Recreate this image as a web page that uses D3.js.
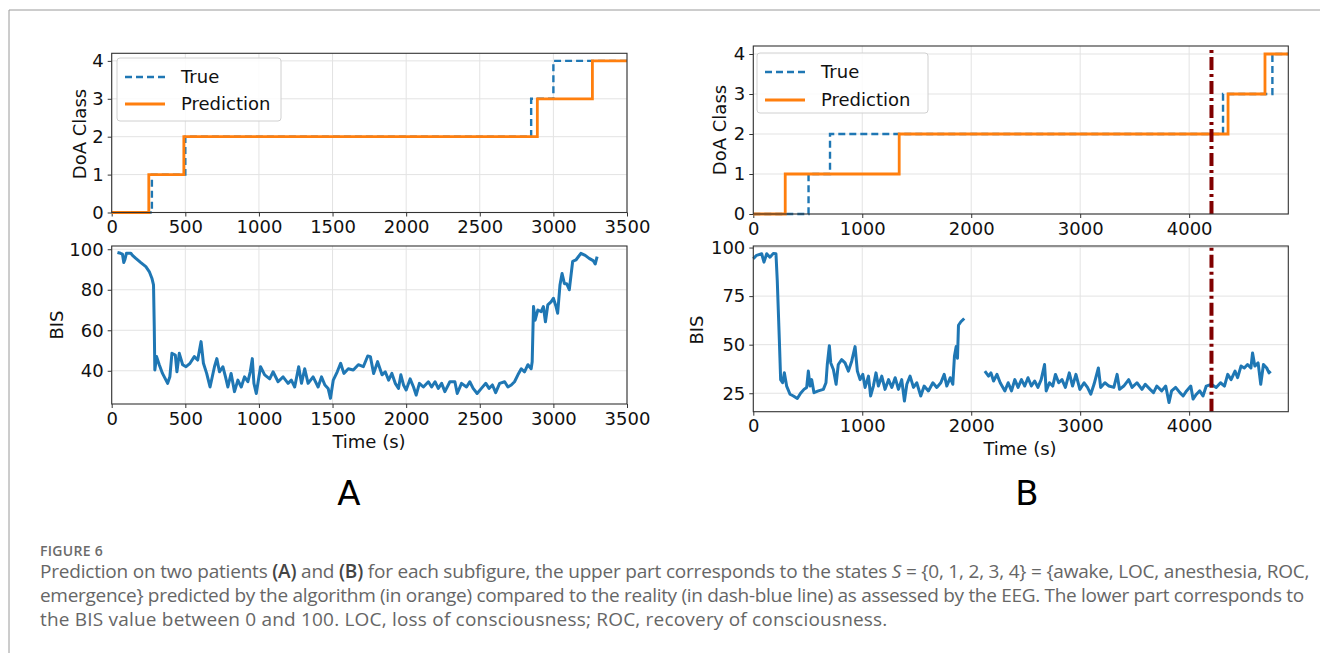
<!DOCTYPE html>
<html lang="en">
<head>
<meta charset="utf-8">
<title>Figure 6</title>
<script src="https://cdnjs.cloudflare.com/ajax/libs/d3/7.8.5/d3.min.js"></script>
<style>
  body { margin: 0; background: #fff; }
  svg { display: block; }
  .tick text { font-family: "DejaVu Sans", sans-serif; font-size: 18px; fill: #111; }
  .tick line { stroke: #333; }
  .domain { display: none; }
  .grid line { stroke: #e3e3e3; stroke-width: 1; }
  .lbl { font-family: "DejaVu Sans", sans-serif; font-size: 18px; fill: #111; }
  .caption { font-family: "Open Sans", sans-serif; font-size: 19px; fill: #666; }
</style>
</head>
<body>
<svg id="fig" width="1320" height="653"></svg>
<script>
// ---- data ----
var classTicks = [0, 1, 2, 3, 4];

// patient A, DoA class steps (time in s, class)
var aTrueT = [0, 273, 500, 2849, 3000, 3500];
var aTrueC = [0, 1, 2, 3, 4, 4];
var aPredT = [0, 252, 490, 2891, 3265, 3500];
var aPredC = [0, 1, 2, 3, 4, 4];
var aTicks = [0, 500, 1000, 1500, 2000, 2500, 3000, 3500];
var aBisTicks = [40, 60, 80, 100];

// patient A, BIS
var aBisT = [39, 60, 73, 82, 90, 100, 114, 130, 141, 164, 198, 232, 255, 273, 284, 289, 293, 305, 323, 345, 380, 395,
  409, 432, 443, 459, 482, 505, 532, 561, 584, 607, 623, 645, 668, 698, 714, 732, 755, 773, 789, 811, 834, 857,
  880, 902, 925, 941, 955, 966, 982, 1000, 1011, 1039, 1073, 1096, 1130, 1164, 1198, 1220, 1243, 1270, 1289,
  1311, 1334, 1368, 1402, 1425, 1448, 1470, 1486, 1505, 1532, 1555, 1577, 1607, 1641, 1675, 1709, 1739, 1757,
  1779, 1806, 1836, 1858, 1881, 1903, 1926, 1948, 1964, 1982, 2000, 2027, 2050, 2068, 2090, 2117, 2151, 2173,
  2196, 2218, 2241, 2263, 2297, 2331, 2347, 2376, 2410, 2432, 2455, 2482, 2511, 2541, 2563, 2586, 2608, 2635,
  2669, 2691, 2714, 2736, 2759, 2782, 2804, 2827, 2849, 2856, 2865, 2876, 2894, 2917, 2932, 2946, 2962, 2984,
  3000, 3018, 3029, 3045, 3059, 3075, 3090, 3108, 3131, 3153, 3187, 3216, 3243, 3270, 3284, 3297];
var aBisV = [98.4, 98, 97.6, 93.4, 95, 98, 98, 98, 97, 95.5, 93.4, 91.4, 89, 85.7, 82.4, 62, 40.4, 47, 43, 38.7, 33.8, 37,
  48.6, 47.8, 39.5, 48.6, 43, 42, 43.7, 47, 45.3, 54.4, 43.7, 38.7, 32, 42, 46, 39.5, 42, 37, 32, 38.7, 29.7, 35.4,
  32, 37, 34.6, 39.5, 46, 33.8, 28.8, 37, 42, 38, 36, 39.5, 34.6, 37, 33.8, 35.4, 32, 42, 33.8,
  41, 33.8, 37, 32, 37, 33, 31.3, 26.4, 35.4, 39.5, 43.7, 38.7, 41, 40.4, 43, 42, 47.3, 47,
  38.7, 44.5, 38, 39.5, 35.4, 38.7, 33.8, 31.3, 38, 33, 30.5, 36, 32, 28, 33.8, 32, 34.6, 32,
  34.6, 31.3, 33.8, 29.7, 34.6, 34.6, 28.8, 33.8, 32, 34.6, 31.3, 28.8, 31.3, 33.8, 31.3, 33, 29.2, 33.8,
  34.6, 32, 33, 34.6, 38, 41, 39.5, 43, 41, 44.5, 71.7, 65, 70, 69.2, 71.7, 64.2, 72.5, 74,
  75.8, 71.7, 68.4, 82.5, 88, 83, 83, 80, 94, 94.7, 98, 97, 95.5, 94.4, 92.7, 96.4];

// patient B, DoA class steps
var bTrueT = [0, 507, 704, 4311, 4764, 4910];
var bTrueC = [0, 1, 2, 3, 4, 4];
var bPredT = [0, 293, 1339, 4357, 4696, 4910];
var bPredC = [0, 1, 2, 3, 4, 4];
var bTicks = [0, 1000, 2000, 3000, 4000];
var bBisTicks = [25, 50, 75, 100];
var bMarkerT = 4205;

// patient B, BIS (null = no signal)
var bBisT = [0, 30, 77, 98, 123, 153, 184, 208, 220, 239, 251, 269, 285, 306, 337, 368, 404, 434, 465, 490, 505, 521,
  536, 557, 597, 643, 667, 679, 698, 711, 735, 760, 780, 811, 842, 873, 903, 934, 955, 980, 1005, 1026, 1057,
  1077, 1102, 1126, 1148, 1179, 1209, 1241, 1271, 1302, 1332, 1362, 1387, 1409, 1439, 1470, 1500, 1537, 1568,
  1607, 1648, 1684, 1721, 1752, 1776, 1807, 1831, 1846, 1862, 1874, 1883, 1905, 1936, 2030,
  2125, 2159, 2181, 2205, 2236, 2266, 2309, 2339, 2370, 2400, 2430, 2461, 2491, 2521, 2552, 2582, 2612, 2642,
  2673, 2688, 2718, 2748, 2773, 2803, 2833, 2864, 2900, 2930, 2961, 2997, 3036, 3067, 3097, 3127, 3167, 3188,
  3227, 3264, 3309, 3339, 3361, 3400, 3445, 3476, 3521, 3567, 3597, 3642, 3673, 3703, 3748, 3785, 3815, 3839,
  3876, 3915, 3945, 3976, 4015, 4036, 4067, 4097, 4127, 4157, 4203, 4248, 4288, 4324, 4354, 4385, 4421, 4445,
  4476, 4506, 4536, 4567, 4582, 4603, 4633, 4657, 4682, 4712, 4733, 4748];
var bBisV = [94.2, 96, 96.8, 92.5, 96.8, 95, 97, 96.8, 83, 52.5, 32, 30.4, 35.5, 28.7, 24.5, 23.6, 22.3, 25, 27, 28, 36.4, 28.7,
  32, 25.3, 26.2, 27, 30.4, 39.8, 49.5, 40.6, 37.2, 29.6, 39.8, 42.3, 40.6, 36.4, 41.5, 49, 36.4, 32, 34.7, 28, 33.8,
  23.6, 28.7, 35.5, 28.7, 33.8, 27, 32, 28, 33, 27, 32, 21, 29.6, 33.8, 28, 30.4, 23.6, 28.7,
  26.2, 30.4, 28, 30.4, 34.7, 28.7, 33, 29.6, 44, 49, 43, 60, 61.8, 63.5, null,
  36.4, 33.8, 35.5, 31.3, 34.7, 30.4, 26.2, 30.4, 26.2, 32, 28, 32, 28.7, 33, 28.7, 31.3, 28, 32,
  39.8, 26.2, 30.4, 28.7, 34.7, 30.4, 32, 28, 35.5, 28.7, 34.7, 27, 30.4, 28, 24.5, 29.6, 38, 28,
  30.4, 28.7, 28, 34.7, 27, 28.7, 32, 28, 30.4, 27, 29.6, 27, 25.3, 28.7, 26.2, 28.7, 20.2, 26.2,
  28, 25.3, 23.6, 26.2, 28.7, 22, 24.5, 26.2, 23.6, 28.7, 29.6, 28, 30.4, 28.7, 34.7, 32, 36.4, 33,
  39, 38, 39.8, 38, 45.7, 39, 40.6, 29.6, 39.8, 38, 35.5, 36.4];

var blue = "#1f77b4", orange = "#ff7f0e", maroon = "#800000";

var svg = d3.select("#fig");

// figure frame (top and left rule)
svg.append("line").attr("x1", 9).attr("x2", 1320).attr("y1", 10).attr("y2", 10)
  .attr("stroke", "#9a9a9a").attr("stroke-width", 1);
svg.append("line").attr("x1", 9).attr("x2", 9).attr("y1", 10).attr("y2", 653)
  .attr("stroke", "#9a9a9a").attr("stroke-width", 1);

function zip(t, v) {
  return t.map(function(d, i) { return [d, v[i]]; });
}

// one panel: grid, ticks, frame; returns the group to plot into
function panel(x, y, xticks, yticks) {
  var g = svg.append("g");
  var x0 = x.range()[0], x1 = x.range()[1], y0 = y.range()[0], y1 = y.range()[1];
  var grid = g.append("g").attr("class", "grid");
  grid.selectAll(".gx").data(xticks).enter().append("line")
    .attr("x1", d => x(d)).attr("x2", d => x(d)).attr("y1", y0).attr("y2", y1);
  grid.selectAll(".gy").data(yticks).enter().append("line")
    .attr("x1", x0).attr("x2", x1).attr("y1", d => y(d)).attr("y2", d => y(d));
  g.append("g").attr("transform", "translate(0," + y0 + ")")
    .call(d3.axisBottom(x).tickValues(xticks).tickSize(4).tickPadding(4).tickFormat(d3.format("d")));
  g.append("g").attr("transform", "translate(" + x0 + ",0)")
    .call(d3.axisLeft(y).tickValues(yticks).tickSize(4).tickPadding(4).tickFormat(d3.format("d")));
  var plot = g.append("g");
  g.append("rect").attr("x", x0).attr("y", y1).attr("width", x1 - x0).attr("height", y0 - y1)
    .attr("fill", "none").attr("stroke", "#333").attr("stroke-width", 1.1);
  return plot;
}

function stepLines(plot, x, y, trueT, trueC, predT, predC) {
  var line = d3.line().x(d => x(d[0])).y(d => y(d[1])).curve(d3.curveStepAfter);
  plot.append("path").attr("d", line(zip(trueT, trueC)))
    .attr("fill", "none").attr("stroke", blue).attr("stroke-width", 2.4).attr("stroke-dasharray", "7,4");
  plot.append("path").attr("d", line(zip(predT, predC)))
    .attr("fill", "none").attr("stroke", orange).attr("stroke-width", 2.8);
}

function bisLine(plot, x, y, t, v) {
  var line = d3.line().defined(d => d[1] != null).x(d => x(d[0])).y(d => y(d[1]));
  plot.append("path").attr("d", line(zip(t, v)))
    .attr("fill", "none").attr("stroke", blue).attr("stroke-width", 3).attr("stroke-linejoin", "round");
}

function legend(x, y, w, h, gap) {
  var g = svg.append("g").attr("transform", "translate(" + x + "," + y + ")");
  g.append("rect").attr("width", w).attr("height", h).attr("rx", 3)
    .attr("fill", "#fff").attr("fill-opacity", 0.85).attr("stroke", "#d0d0d0");
  var items = [["True", blue, "7,4"], ["Prediction", orange, null]];
  items.forEach(function(it, i) {
    var yy = 19 + i * gap;
    g.append("line").attr("x1", 8).attr("x2", 48).attr("y1", yy).attr("y2", yy)
      .attr("stroke", it[1]).attr("stroke-width", it[2] ? 2.6 : 2.8).attr("stroke-dasharray", it[2]);
    g.append("text").attr("class", "lbl").attr("x", 64).attr("y", yy + 6).text(it[0]);
  });
}

function vlabel(x, y, txt) {
  svg.append("text").attr("class", "lbl").attr("text-anchor", "middle")
    .attr("transform", "translate(" + x + "," + y + ") rotate(-90)").text(txt);
}

// ---- panel A ----
var xA = d3.scaleLinear().domain([0, 3500]).range([111.7, 627]);
var yAtop = d3.scaleLinear().domain([0, 4.2]).range([212.5, 53.3]);
var yAbot = d3.scaleLinear().domain([23.6, 101.6]).range([404, 246]);

var pA1 = panel(xA, yAtop, aTicks, classTicks);
stepLines(pA1, xA, yAtop, aTrueT, aTrueC, aPredT, aPredC);
legend(117, 58, 164, 63, 27);
vlabel(86, 134, "DoA Class");

var pA2 = panel(xA, yAbot, aTicks, aBisTicks);
bisLine(pA2, xA, yAbot, aBisT, aBisV);
vlabel(63, 325, "BIS");
svg.append("text").attr("class", "lbl").attr("text-anchor", "middle").attr("x", 369).attr("y", 448).text("Time (s)");
svg.append("text").attr("x", 349).attr("y", 505).attr("text-anchor", "middle")
  .style("font-family", "'DejaVu Sans', sans-serif").style("font-size", "34px").text("A");

// ---- panel B ----
var xB = d3.scaleLinear().domain([0, 4910]).range([753.3, 1288.3]);
var yBtop = d3.scaleLinear().domain([0, 4.2]).range([214, 46]);
var yBbot = d3.scaleLinear().domain([15.5, 100.8]).range([411.7, 246]);

var pB1 = panel(xB, yBtop, bTicks, classTicks);
stepLines(pB1, xB, yBtop, bTrueT, bTrueC, bPredT, bPredC);
pB1.append("line").attr("x1", xB(bMarkerT)).attr("x2", xB(bMarkerT)).attr("y1", yBtop.range()[0]).attr("y2", yBtop.range()[1])
  .attr("stroke", maroon).attr("stroke-width", 4).attr("stroke-dasharray", "13,4,3,4");
legend(757, 53, 171, 60, 28);
vlabel(726, 130, "DoA Class");

var pB2 = panel(xB, yBbot, bTicks, bBisTicks);
bisLine(pB2, xB, yBbot, bBisT, bBisV);
pB2.append("line").attr("x1", xB(bMarkerT)).attr("x2", xB(bMarkerT)).attr("y1", yBbot.range()[0]).attr("y2", yBbot.range()[1])
  .attr("stroke", maroon).attr("stroke-width", 4).attr("stroke-dasharray", "13,4,3,4");
vlabel(703, 330, "BIS");
svg.append("text").attr("class", "lbl").attr("text-anchor", "middle").attr("x", 1020).attr("y", 455).text("Time (s)");
svg.append("text").attr("x", 1027).attr("y", 505).attr("text-anchor", "middle")
  .style("font-family", "'DejaVu Sans', sans-serif").style("font-size", "34px").text("B");

// ---- caption ----
svg.append("text").attr("x", 40).attr("y", 556)
  .style("font-family", "'Open Sans', sans-serif").style("font-size", "14px").style("font-weight", 600)
  .style("fill", "#6b6b6b").style("letter-spacing", "0.3px").text("FIGURE 6");

var cap1 = svg.append("text").attr("class", "caption").attr("x", 40).attr("y", 578)
  .style("letter-spacing", "-0.2px");
cap1.append("tspan").text("Prediction on two patients ");
cap1.append("tspan").style("font-weight", 600).style("fill", "#444").text("(A)");
cap1.append("tspan").text(" and ");
cap1.append("tspan").style("font-weight", 600).style("fill", "#444").text("(B)");
cap1.append("tspan").text(" for each subfigure, the upper part corresponds to the states ");
cap1.append("tspan").style("font-style", "italic").text("S");
cap1.append("tspan").text(" = {0, 1, 2, 3, 4} = {awake, LOC, anesthesia, ROC,");
svg.append("text").attr("class", "caption").attr("x", 40).attr("y", 602)
  .style("letter-spacing", "-0.3px")
  .text("emergence} predicted by the algorithm (in orange) compared to the reality (in dash-blue line) as assessed by the EEG. The lower part corresponds to");
svg.append("text").attr("class", "caption").attr("x", 40).attr("y", 626)
  .style("letter-spacing", "0.2px")
  .text("the BIS value between 0 and 100. LOC, loss of consciousness; ROC, recovery of consciousness.");
</script>
</body>
</html>
